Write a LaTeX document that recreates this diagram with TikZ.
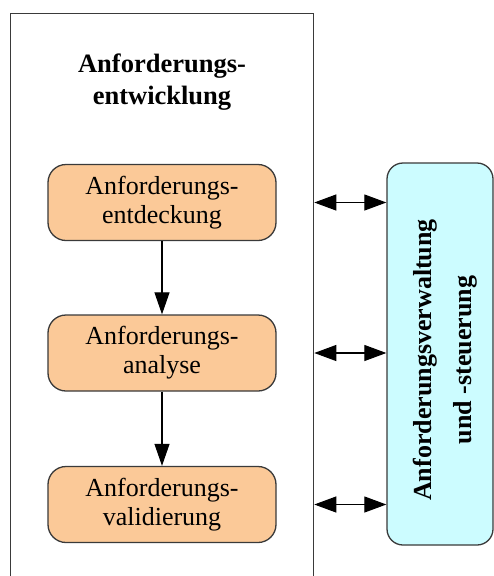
\documentclass[tikz,border=0pt]{standalone}
\usepackage{fontspec}
\setmainfont{Liberation Serif}
\usetikzlibrary{arrows.meta}
\definecolor{stepfill}{HTML}{FBC998}
\definecolor{mgmtfill}{HTML}{CCFCFF}
\definecolor{edge}{HTML}{3A3A3A}
\tikzset{
  stepbox/.style={draw=edge, line width=1.3pt, fill=stepfill, rounded corners=18pt,
    minimum width=228pt, minimum height=76pt, inner sep=0pt, align=center,
    font=\fontsize{26}{29}\selectfont},
  mgmtbox/.style={draw=edge, line width=1.3pt, fill=mgmtfill, rounded corners=16pt,
    minimum width=106pt, minimum height=382pt, inner sep=0pt},
  flow/.style={draw=black, line width=1.1pt, -{Triangle[length=22pt,width=15pt]}},
  link/.style={draw=black, line width=1.1pt, {Triangle[length=22pt,width=16pt]}-{Triangle[length=22pt,width=16pt]}}
}
\begin{document}
\begin{tikzpicture}[x=1pt,y=-1pt]
  \clip (0,0) rectangle (494,576);
  \fill[white] (0,0) rectangle (494,576);
  % outer frame, running past the lower edge
  \node[draw=edge, line width=1.3pt, minimum width=303pt, minimum height=600pt,
        inner sep=0pt, anchor=north west] (outer) at (10,13) {};
  \node[font=\bfseries\fontsize{26.5}{32}\selectfont, align=center] (title) at (162,82)
    {Anforderungs-\\entwicklung};
  % process steps
  \node[stepbox] (s1) at (162,202.5) {Anforderungs-\\entdeckung};
  \node[stepbox] (s2) at (162,353) {Anforderungs-\\analyse};
  \node[stepbox] (s3) at (162,504.5) {Anforderungs-\\validierung};
  \draw[flow] (s1) -- (s2);
  \draw[flow] (s2) -- (s3);
  % management block
  \node[mgmtbox] (mgmt) at (440,354) {};
  \node[rotate=90, font=\bfseries\fontsize{26}{40}\selectfont, align=center] (mgmttext)
    at (445,360) {Anforderungsverwaltung\\und -steuerung};
  \draw[link] (outer.east |- s1) -- (mgmt.west |- s1);
  \draw[link] (outer.east |- s2) -- (mgmt.west |- s2);
  \draw[link] (outer.east |- s3) -- (mgmt.west |- s3);
\end{tikzpicture}
\end{document}
